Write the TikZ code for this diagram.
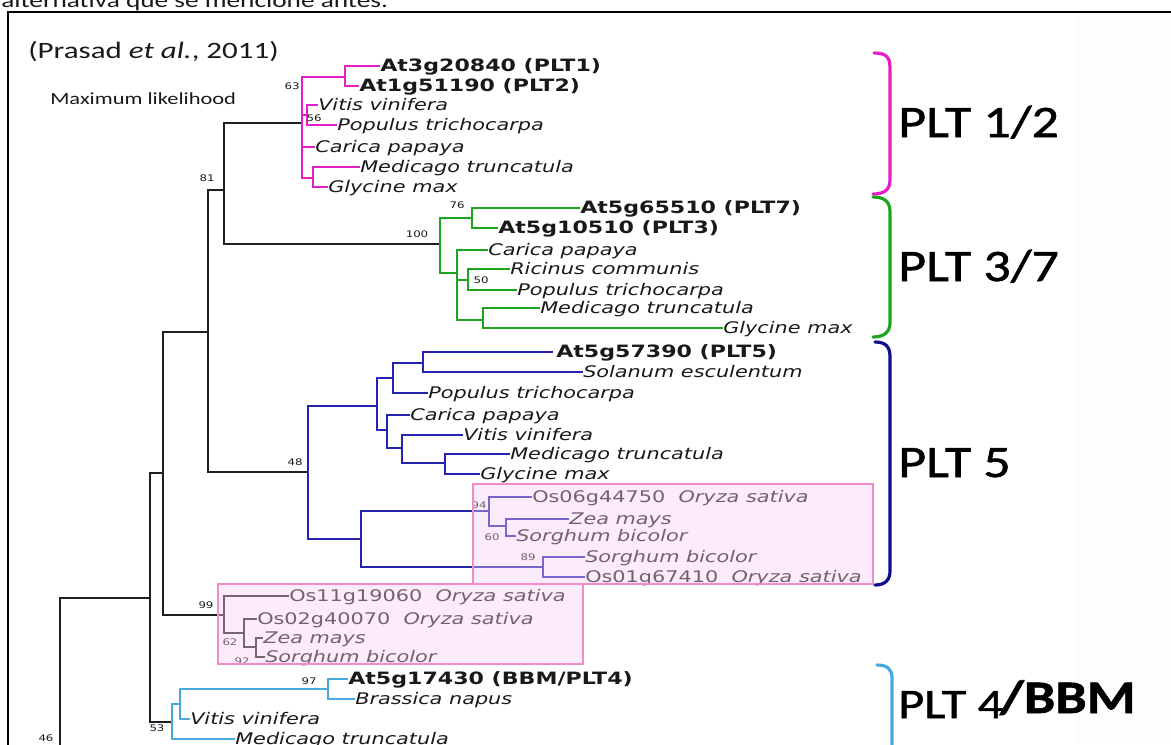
\documentclass[tikz,border=0pt]{standalone}
\usepackage{fontspec}
\setmainfont{Carlito}
\newfontfamily\calfont[FakeStretch=1.32]{Carlito}
\newfontfamily\pltfont[FakeStretch=1.2,FakeBold=1.2]{Carlito}
\newfontfamily\treefont[FakeStretch=1.3]{DejaVu Sans}
\definecolor{magc}{RGB}{228,30,200}
\definecolor{grnc}{RGB}{30,165,30}
\definecolor{bluc}{RGB}{35,35,175}
\definecolor{bracebl}{RGB}{15,15,140}
\definecolor{lbc}{RGB}{70,170,220}
\definecolor{txtc}{RGB}{25,25,25}
\definecolor{boxfill}{RGB}{248,205,245}
\definecolor{boxline}{RGB}{240,140,200}
\definecolor{paneltint}{RGB}{253,253,253}
\tikzset{
  edge/.style={line width=1.8pt},
  blk/.style={edge, line width=2pt, draw=black!88},
  mag/.style={edge, draw=magc},
  grn/.style={edge, draw=grnc},
  blu/.style={edge, draw=bluc},
  lbl/.style={edge, draw=lbc},
  lf/.style={anchor=west, inner sep=0pt, text height=9.5pt, text depth=2pt,
    font=\treefont\itshape\fontsize{12}{14}\selectfont, text=txtc},
  lfb/.style={lf, font=\treefont\bfseries\fontsize{12.75}{15}\selectfont},
  lfr/.style={lf, font=\treefont\fontsize{12}{14}\selectfont},
  bsv/.style={inner sep=0pt, font=\treefont\fontsize{6.8}{7.5}\selectfont, text=txtc},
  bracepath/.style={line width=2.4pt, line cap=round},
  plt/.style={anchor=base west, inner sep=0pt, text=black,
    font=\pltfont\fontsize{33.75}{40}\selectfont},
  pinkbox/.style={draw=boxline, line width=0.8pt, fill=boxfill, fill opacity=0.4},
  caption/.style={anchor=base west, inner sep=0pt, text=txtc},
}
\begin{document}
\begin{tikzpicture}[x=0.75pt,y=-0.75pt]
\useasboundingbox (0,0) rectangle (1171,744);
\clip (0,0) rectangle (1171,744);
\fill[white] (0,0) rectangle (1171,744);
\fill[paneltint] (1077,13) rectangle (1171,744);

% text line cut by the top edge
\node[caption, font=\calfont\fontsize{15.5}{18}\selectfont] (topline) at (1,7) {alternativa que se mencione antes.};

% frame
\draw[line width=1.6pt] (8,760) -- (8,12) -- (1180,12);

% captions
\node[caption, font=\calfont\fontsize{17.6}{21}\selectfont] (cite) at (28,58) {(Prasad \textit{et al.}, 2011)};
\node[caption, font=\calfont\fontsize{12.75}{15}\selectfont] (method) at (50,104) {Maximum likelihood};

% internal nodes
\coordinate (R) at (60,760);
\coordinate (A) at (150,598);
\coordinate (B) at (163,473);
\coordinate (C) at (208,332);
\coordinate (N81) at (224,190);
\coordinate (P) at (302,123);
\coordinate (P12) at (345,77);
\coordinate (PVP) at (307,115);
\coordinate (PMG) at (313,178);
\coordinate (G) at (440,244);
\coordinate (G76) at (472,218);
\coordinate (G2) at (457,273);
\coordinate (G50) at (468,280);
\coordinate (GMG) at (483,320);
\coordinate (N48) at (308,472);
\coordinate (B1) at (377,406);
\coordinate (B2) at (393,378);
\coordinate (B4) at (423,363);
\coordinate (B3) at (387,430);
\coordinate (B5) at (402,448);
\coordinate (B6) at (445,463);
\coordinate (BO) at (361,539);
\coordinate (B94) at (489,511);
\coordinate (B60) at (506,526);
\coordinate (B89) at (543,567);
\coordinate (N99) at (224,615);
\coordinate (N62) at (244,633);
\coordinate (N92) at (256,647);
\coordinate (N53) at (172,722);
\coordinate (L1) at (180,704);
\coordinate (N97) at (328,689);

% leaves: PLT1/2
\node[lfb] (p1) at (380,66) {At3g20840 (PLT1)};
\node[lfb] (p2) at (359,86) {At1g51190 (PLT2)};
\node[lf] (p3) at (318,105) {Vitis vinifera};
\node[lf] (p4) at (337,125) {Populus trichocarpa};
\node[lf] (p5) at (315,147) {Carica papaya};
\node[lf] (p6) at (360,167) {Medicago truncatula};
\node[lf] (p7) at (328,187) {Glycine max};
% PLT3/7
\node[lfb] (g1) at (580,208) {At5g65510 (PLT7)};
\node[lfb] (g2) at (498,228) {At5g10510 (PLT3)};
\node[lf] (g3) at (488,250) {Carica papaya};
\node[lf] (g4) at (510,269) {Ricinus communis};
\node[lf] (g5) at (517,290) {Populus trichocarpa};
\node[lf] (g6) at (540,308) {Medicago truncatula};
\node[lf] (g7) at (723,328) {Glycine max};
% PLT5
\node[lfb] (b1) at (556,352) {At5g57390 (PLT5)};
\node[lf] (b2) at (583,372) {Solanum esculentum};
\node[lf] (b3) at (428,393) {Populus trichocarpa};
\node[lf] (b4) at (410,415) {Carica papaya};
\node[lf] (b5) at (463,435) {Vitis vinifera};
\node[lf] (b6) at (510,454) {Medicago truncatula};
\node[lf] (b7) at (480,474) {Glycine max};
\node[lfr] (b8) at (532,497) {Os06g44750\ \ \textit{Oryza sativa}};
\node[lf] (b9) at (569,519) {Zea mays};
\node[lf] (b10) at (516,536) {Sorghum bicolor};
\node[lf] (b11) at (585,557) {Sorghum bicolor};
\node[lfr] (b12) at (585,577) {Os01g67410\ \ \textit{Oryza sativa}};
% monocot group
\node[lfr] (o1) at (289,596) {Os11g19060\ \ \textit{Oryza sativa}};
\node[lfr] (o2) at (257,619) {Os02g40070\ \ \textit{Oryza sativa}};
\node[lf] (o3) at (263,638) {Zea mays};
\node[lf] (o4) at (265,657) {Sorghum bicolor};
% PLT4/BBM
\node[lfb] (l1) at (348,679) {At5g17430 (BBM/PLT4)};
\node[lf] (l2) at (355,699) {Brassica napus};
\node[lf] (l3) at (190,719) {Vitis vinifera};
\node[lf] (l4) at (235,739) {Medicago truncatula};

% backbone (black)
\draw[blk] (R) |- (A);
\draw[blk] (A) |- (B);
\draw[blk] (A) |- (N53);
\draw[blk] (B) |- (C);
\draw[blk] (B) |- (N99);
\draw[blk] (C) |- (N81);
\draw[blk] (C) |- (N48);
\draw[blk] (N81) |- (P);
\draw[blk] (N81) |- (G);

% PLT1/2 (magenta)
\draw[mag] (P) |- (P12);
\draw[mag] (P) |- (PVP);
\draw[mag] (P) |- (p5.west);
\draw[mag] (P) |- (PMG);
\draw[mag] (P12) |- (p1.west);
\draw[mag] (P12) |- (p2.west);
\draw[mag] (PVP) |- (p3.west);
\draw[mag] (PVP) |- (p4.west);
\draw[mag] (PMG) |- (p6.west);
\draw[mag] (PMG) |- (p7.west);

% PLT3/7 (green)
\draw[grn] (G) |- (G76);
\draw[grn] (G) |- (G2);
\draw[grn] (G76) |- (g1.west);
\draw[grn] (G76) |- (g2.west);
\draw[grn] (G2) |- (g3.west);
\draw[grn] (G2) |- (G50);
\draw[grn] (G2) |- (GMG);
\draw[grn] (G50) |- (g4.west);
\draw[grn] (G50) |- (g5.west);
\draw[grn] (GMG) |- (g6.west);
\draw[grn] (GMG) |- (g7.west);

% PLT5 (blue)
\draw[blu] (N48) |- (B1);
\draw[blu] (N48) |- (BO);
\draw[blu] (B1) |- (B2);
\draw[blu] (B1) |- (B3);
\draw[blu] (B2) |- (B4);
\draw[blu] (B2) |- (b3.west);
\draw[blu] (B4) |- ([xshift=-2.5pt]b1.west);
\draw[blu] (B4) |- (b2.west);
\draw[blu] (B3) |- (b4.west);
\draw[blu] (B3) |- (B5);
\draw[blu] (B5) |- (b5.west);
\draw[blu] (B5) |- (B6);
\draw[blu] (B6) |- (b6.west);
\draw[blu] (B6) |- (b7.west);
\draw[blu] (BO) |- (B94);
\draw[blu] (BO) |- (B89);
\draw[blu] (B94) |- (b8.west);
\draw[blu] (B94) |- (B60);
\draw[blu] (B60) |- (b9.west);
\draw[blu] (B60) |- (b10.west);
\draw[blu] (B89) |- (b11.west);
\draw[blu] (B89) |- (b12.west);

% monocot group (dark)
\draw[blk] (N99) |- (o1.west);
\draw[blk] (N99) |- (N62);
\draw[blk] (N62) |- (o2.west);
\draw[blk] (N62) |- (N92);
\draw[blk] (N92) |- (o3.west);
\draw[blk] (N92) |- (o4.west);

% PLT4/BBM (light blue)
\draw[lbl] (N53) |- (L1);
\draw[lbl] (N53) |- (l4.west);
\draw[lbl] (L1) |- (N97);
\draw[lbl] (L1) |- (l3.west);
\draw[lbl] (N97) |- (l1.west);
\draw[lbl] (N97) |- (l2.west);

% bootstrap values
\node[bsv] (s63) at (292,86) {63};
\node[bsv] (s56) at (314,118) {56};
\node[bsv] (s81) at (207,178) {81};
\node[bsv] (s100) at (417,234) {100};
\node[bsv] (s76) at (457,205) {76};
\node[bsv] (s50) at (481,280) {50};
\node[bsv] (s48) at (295,462) {48};
\node[bsv] (s94) at (479,505) {94};
\node[bsv] (s60) at (492,537) {60};
\node[bsv] (s89) at (528,557) {89};
\node[bsv] (s99) at (206,605) {99};
\node[bsv] (s62) at (230,642) {62};
\node[bsv] (s92) at (242,661) {92};
\node[bsv] (s97) at (309,681) {97};
\node[bsv] (s53) at (157,728) {53};
\node[bsv] (s46) at (46,738) {46};

% highlight boxes (translucent overlay)
\path[pinkbox] (473,484) rectangle (873,584);
\path[pinkbox] (218,584) rectangle (583,664);

% braces
\draw[bracepath, draw=magc] (874,53) .. controls (886,53) and (890,57) .. (890,68)
  -- (890,180) .. controls (890,190) and (884,194) .. (873,194);
\draw[bracepath, draw=grnc] (873,197) .. controls (885,197) and (890,202) .. (890,212)
  -- (890,323) .. controls (890,332) and (884,337) .. (873,337);
\draw[bracepath, draw=bracebl] (875,342) .. controls (886,342) and (890,347) .. (890,357)
  -- (890,571) .. controls (890,580) and (885,585) .. (875,585);
\draw[bracepath, draw=lbc] (877,665) .. controls (887,665) and (892,669) .. (892,678)
  -- (892,760);

% clade labels
\node[plt] (plt12) at (898,137) {PLT 1/2};
\node[plt] (plt37) at (898,281) {PLT 3/7};
\node[plt] (plt5) at (898,477) {PLT 5};
\node[plt, font=\pltfont\fontsize{31.5}{38}\selectfont] (plt4) at (898,718) {PLT 4};
\node[anchor=base west, inner sep=0pt, text=black, font=\pltfont\bfseries\fontsize{35}{42}\selectfont]
  (bbm) at ([xshift=-3pt,yshift=3.75pt]plt4.base east) {/BBM};
\end{tikzpicture}
\end{document}
